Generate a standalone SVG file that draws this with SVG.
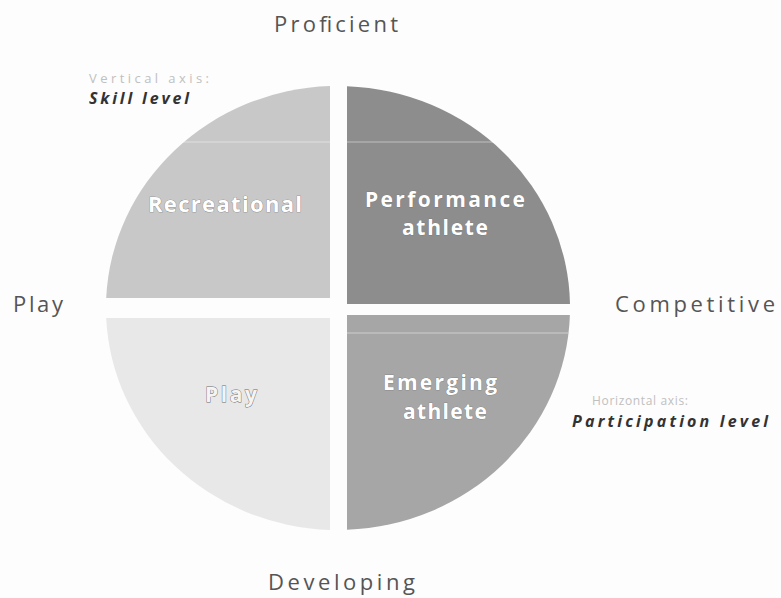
<svg xmlns="http://www.w3.org/2000/svg" width="781" height="598" viewBox="0 0 781 598">
  <style>
    .axis { font-family: "Open Sans", "Liberation Sans", sans-serif; font-size: 22px; fill: #555555; }
    .quad { font-family: "Open Sans", "Liberation Sans", sans-serif; font-size: 21px; font-weight: bold; fill: #ffffff; stroke: #6e6e6e; stroke-width: 0.6px; paint-order: stroke; text-anchor: middle; }
    .note { font-family: "Open Sans", "Liberation Sans", sans-serif; font-size: 13px; fill: #c0c0c0; }
    .noteb { font-family: "Open Sans", "Liberation Sans", sans-serif; font-size: 16px; font-weight: bold; font-style: italic; fill: #333333; }
    .scan { stroke: #ffffff; stroke-opacity: 0.45; stroke-width: 1.2; }
  </style>
  <rect x="0" y="0" width="781" height="598" fill="#fdfdfd"/>

  <g id="recreational">
    <path d="M330,298 L330,86.1 A232,222 0 0 0 106.2,298 Z" fill="#c8c8c8"/>
    <line class="scan" x1="136" y1="142" x2="330" y2="142"/>
    <text class="quad" x="225" y="212" textLength="154" lengthAdjust="spacing" style="font-size:22px">Recreational</text>
  </g>

  <g id="performance-athlete">
    <path d="M347,304 L347,86.2 A232,222 0 0 1 570,304 Z" fill="#8d8d8d"/>
    <line class="scan" x1="347" y1="142" x2="540" y2="142"/>
    <text class="quad" x="445" y="207" textLength="160" lengthAdjust="spacing">Performance</text>
    <text class="quad" x="445" y="235" textLength="86" lengthAdjust="spacing">athlete</text>
  </g>

  <g id="play">
    <path d="M330,318 L330,529.9 A232,222 0 0 1 106.2,318 Z" fill="#e8e8e8"/>
    <text class="quad" x="231" y="402" textLength="52" lengthAdjust="spacing" style="fill:#f4f4f4;stroke:#6a6a6a;stroke-width:0.9px">Play</text>
  </g>

  <g id="emerging-athlete">
    <path d="M347,315 L569.9,315 A232,222 0 0 1 347,529.8 Z" fill="#a6a6a6"/>
    <line class="scan" x1="347" y1="333" x2="568" y2="333"/>
    <text class="quad" x="440" y="390" textLength="114" lengthAdjust="spacing">Emerging</text>
    <text class="quad" x="445" y="419" textLength="84" lengthAdjust="spacing">athlete</text>
  </g>

  <g id="connectors"></g>

  <g id="axis-labels">
    <text class="axis" x="274" y="32" textLength="124" lengthAdjust="spacing">Proficient</text>
    <text class="axis" x="268" y="590" textLength="147" lengthAdjust="spacing">Developing</text>
    <text class="axis" x="13" y="312" textLength="50" lengthAdjust="spacing">Play</text>
    <text class="axis" x="615" y="312" textLength="160" lengthAdjust="spacing">Competitive</text>
  </g>

  <g id="vertical-axis-note">
    <text class="note" x="89" y="83" textLength="120" lengthAdjust="spacing">Vertical axis:</text>
    <text class="noteb" x="89" y="104" textLength="100" lengthAdjust="spacing">Skill level</text>
  </g>

  <g id="horizontal-axis-note">
    <text class="note" x="592" y="405" textLength="96" lengthAdjust="spacing" style="font-size:12px">Horizontal axis:</text>
    <text class="noteb" x="572" y="427" textLength="196" lengthAdjust="spacing">Participation level</text>
  </g>
</svg>
